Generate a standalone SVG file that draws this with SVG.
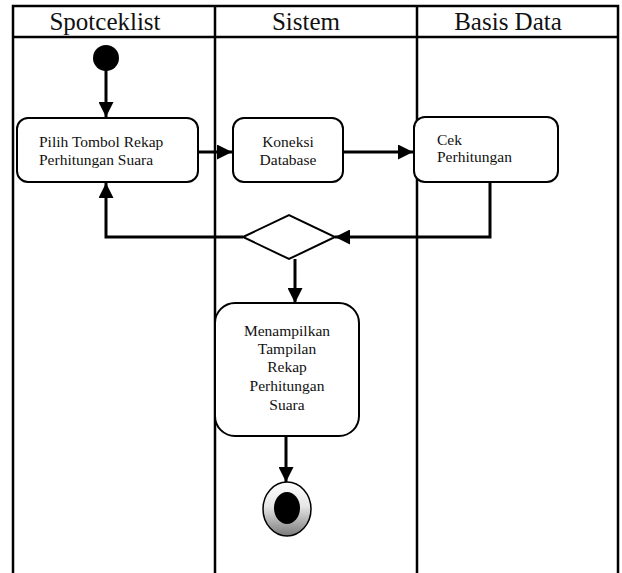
<svg xmlns="http://www.w3.org/2000/svg" width="622" height="573" viewBox="0 0 622 573">
  <style>
    .lane { fill: none; stroke: #000; stroke-width: 2.5; }
    .head { font-family: "Liberation Serif", "Times New Roman", serif; font-size: 25px; fill: #111; text-anchor: middle; }
    .box { fill: #fff; stroke: #000; stroke-width: 2; }
    .lbl { font-family: "Liberation Serif", "Times New Roman", serif; font-size: 15.5px; fill: #111; }
    .mid { text-anchor: middle; }
    .flow { fill: none; stroke: #000; stroke-width: 3; }
  </style>
  <defs>
    <marker id="arrow" viewBox="0 0 10 10" refX="10" refY="5" markerWidth="5" markerHeight="5" markerUnits="strokeWidth" orient="auto">
      <path d="M0,0 L10,5 L0,10 Z" fill="#000"/>
    </marker>
    <linearGradient id="endFill" x1="0" y1="0" x2="0" y2="1">
      <stop offset="0" stop-color="#ffffff"/>
      <stop offset="0.45" stop-color="#e6e6e6"/>
      <stop offset="1" stop-color="#7a7a7a"/>
    </linearGradient>
  </defs>

  <!-- swimlane table -->
  <g id="lanes">
    <path class="lane" d="M13,573 V6 H618 V573 M13,37 H618 M215,6 V573 M417,6 V573"/>
    <text class="head" x="105" y="30">Spotceklist</text>
    <text class="head" x="306" y="30">Sistem</text>
    <text class="head" x="508" y="30">Basis Data</text>
  </g>

  <!-- connectors -->
  <g id="connectors">
    <line class="flow" x1="106" y1="70" x2="106" y2="117" marker-end="url(#arrow)"/>
    <line class="flow" x1="197" y1="152" x2="232" y2="152" marker-end="url(#arrow)"/>
    <line class="flow" x1="343" y1="152" x2="413" y2="152" marker-end="url(#arrow)"/>
    <polyline class="flow" points="490,182 490,237 335,237" marker-end="url(#arrow)"/>
    <polyline class="flow" points="243,237 106,237 106,183" marker-end="url(#arrow)"/>
    <line class="flow" x1="295" y1="259" x2="295" y2="303" marker-end="url(#arrow)"/>
    <line class="flow" x1="286" y1="436" x2="286" y2="482" marker-end="url(#arrow)"/>
  </g>

  <g id="start">
    <ellipse cx="106" cy="58" rx="13" ry="13" fill="#000"/>
  </g>

  <g id="pilih-tombol">
    <rect class="box" x="17" y="118" width="181" height="64" rx="11"/>
    <text class="lbl" x="39" y="147">Pilih Tombol Rekap</text>
    <text class="lbl" x="39" y="165">Perhitungan Suara</text>
  </g>

  <g id="koneksi-database">
    <rect class="box" x="233" y="118" width="110" height="64" rx="11"/>
    <text class="lbl mid" x="288" y="147">Koneksi</text>
    <text class="lbl mid" x="288" y="165">Database</text>
  </g>

  <g id="cek-perhitungan">
    <rect class="box" x="414" y="117" width="144" height="65" rx="11"/>
    <text class="lbl" x="437" y="145">Cek</text>
    <text class="lbl" x="437" y="162">Perhitungan</text>
  </g>

  <g id="decision">
    <polygon points="243,237 289,215 335,237 289,259" fill="#fff" stroke="#000" stroke-width="2"/>
  </g>

  <g id="menampilkan-rekap">
    <rect class="box" x="215" y="303" width="144" height="133" rx="20"/>
    <text class="lbl mid" x="287" y="336">Menampilkan</text>
    <text class="lbl mid" x="287" y="354">Tampilan</text>
    <text class="lbl mid" x="287" y="372">Rekap</text>
    <text class="lbl mid" x="287" y="391">Perhitungan</text>
    <text class="lbl mid" x="287" y="410">Suara</text>
  </g>

  <g id="end">
    <ellipse cx="287" cy="509" rx="24" ry="27" fill="url(#endFill)" stroke="#000" stroke-width="1.5"/>
    <ellipse cx="287" cy="508" rx="13" ry="16" fill="#000"/>
  </g>
</svg>
